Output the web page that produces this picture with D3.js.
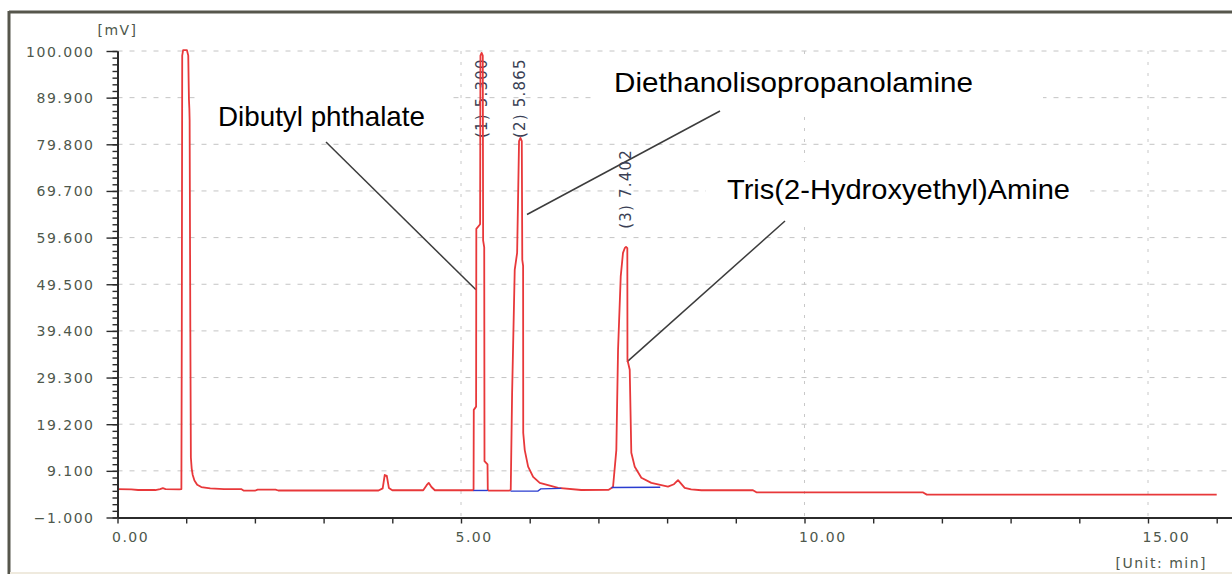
<!DOCTYPE html>
<html>
<head>
<meta charset="utf-8">
<script src="https://cdn.jsdelivr.net/npm/d3@7"></script>
<style>
  html, body { margin: 0; padding: 0; background: #ffffff; }
  svg { display: block; }
  .axis-text { font-family: "DejaVu Sans", Verdana, sans-serif; font-size: 14px; fill: #4e584c; letter-spacing: 1.5px; }
  .peak-text { font-family: "DejaVu Sans", Verdana, sans-serif; font-size: 15px; fill: #3a3f55; letter-spacing: 1.2px; }
  .name-text { font-family: "Liberation Sans", Arial, sans-serif; font-size: 28px; fill: #000000; }
</style>
</head>
<body>
<svg id="chart" width="1232" height="574"></svg>
<script>
// ---- detector trace: retention time (min) and signal (mV) ----
const timeMin = [
  0.00, 0.20, 0.30, 0.55, 0.62, 0.66, 0.70, 0.90, 0.930, 0.936, 0.942, 0.955, 1.010, 1.030,
  1.036, 1.040, 1.046, 1.050, 1.060, 1.068, 1.080, 1.095, 1.12, 1.16, 1.22, 1.35, 1.55, 1.80,
  1.84, 2.00, 2.04, 2.30, 2.34, 3.80, 3.86, 3.89, 3.92, 3.95, 4.00, 4.45, 4.50, 4.53, 4.57,
  4.62, 5.18, 5.183, 5.186, 5.220, 5.223, 5.278, 5.283, 5.300, 5.317, 5.322, 5.338, 5.342,
  5.386, 5.390, 5.40, 5.70, 5.724, 5.744, 5.782, 5.817, 5.845, 5.865, 5.885, 5.892, 5.904,
  5.906, 5.928, 5.977, 6.050, 6.146, 6.414, 6.75, 7.15, 7.213, 7.261, 7.286, 7.325, 7.358,
  7.383, 7.402, 7.421, 7.423, 7.456, 7.479, 7.529, 7.625, 7.770, 8.013, 8.10, 8.159, 8.256,
  8.35, 8.50, 9.25, 9.30, 11.72, 11.78, 16.00
];
const signalMv = [
  5.15, 5.10, 4.95, 4.95, 5.15, 5.35, 5.15, 5.10, 5.15, 40.0, 99.0, 100.2, 100.2, 99.0,
  93.0, 89.5, 87.5, 85.0, 40.0, 12.0, 9.6, 8.2, 7.0, 6.1, 5.6, 5.3, 5.15, 5.15,
  4.8, 4.8, 5.05, 5.05, 4.85, 4.85, 5.3, 8.2, 8.0, 5.4, 4.9, 4.9, 6.0, 6.5, 5.6,
  4.9, 4.9, 5.2, 22.3, 23.0, 61.5, 62.5, 99.0, 99.6, 99.0, 59.0, 57.5, 11.2,
  10.5, 5.0, 4.85, 4.8, 5.0, 26.0, 52.6, 56.3, 80.5, 81.2, 80.5, 54.8, 53.5,
  17.3, 13.6, 10.0, 7.8, 6.5, 5.4, 4.95, 5.0, 5.6, 13.6, 35.3, 51.2, 56.3,
  57.3, 57.6, 57.3, 33.1, 31.0, 13.0, 10.0, 7.6, 6.5, 5.7, 6.2, 7.1, 5.4,
  5.1, 4.9, 4.9, 4.45, 4.45, 3.95, 3.95
];

// integration baselines under the identified peaks
const baseline1Time = [5.18, 5.39];
const baseline1Mv   = [4.85, 4.85];
const baseline2Time = [5.72, 6.12, 6.16, 6.46];
const baseline2Mv   = [4.70, 4.75, 5.20, 5.30];
const baseline3Time = [7.19, 7.90];
const baseline3Mv   = [5.50, 5.55];

// identified peaks
const peakNumbers = [1, 2, 3];
const peakTimes   = [5.300, 5.865, 7.402];
const peakHeights = [99.6, 81.2, 57.6];
const compoundNames = ["Dibutyl phthalate", "Diethanolisopropanolamine", "Tris(2-Hydroxyethyl)Amine"];
// point on each peak that the leader line touches (min, mV)
const leaderTime = [5.218, 5.961, 7.416];
const leaderMv   = [48.3, 64.6, 32.7];

// axis ticks
const yTickValues = [-1.0, 9.1, 19.2, 29.3, 39.4, 49.5, 59.6, 69.7, 79.8, 89.9, 100.0];
const xLabelValues = [0, 5, 10, 15];
const xTickValues = [0, 1, 2, 3, 4, 5, 6, 7, 8, 9, 10, 11, 12, 13, 14, 15, 16];

// ---- layout ----
const W = 1232, H = 574;
const plotLeft = 117.5, plotRight = 1232, plotTop = 51, plotBottom = 517.5;
const minorPerMajor = 7;

// white boxes and text anchors of the compound names (pixels)
const nameLayout = [
  { box: [195, 86, 252, 54],  textX: 218, textY: 126, width: 207, lineFrom: [326, 142] },
  { box: [592, 58, 451, 53],  textX: 614, textY: 92,  width: 359, lineFrom: [720, 111] },
  { box: [706, 162, 384, 58], textX: 727, textY: 199, width: 343, lineFrom: [785, 221] }
];

const svg = d3.select("#chart");
svg.append("rect").attr("width", W).attr("height", H).attr("fill", "#ffffff");

const x = d3.scaleLinear().domain([0, (plotRight - plotLeft) / 68.7]).range([plotLeft, plotRight]);
const y = d3.scaleLinear().domain([-1, 100]).range([plotBottom, plotTop]);

// grid
const grid = svg.append("g");
grid.selectAll("line.h").data(yTickValues.slice(1)).join("line")
  .attr("x1", plotLeft).attr("x2", plotRight)
  .attr("y1", d => y(d)).attr("y2", d => y(d))
  .attr("stroke", "#c4c4c4").attr("stroke-width", 1).attr("stroke-dasharray", "5,7");
grid.selectAll("line.v").data(xLabelValues.slice(1)).join("line")
  .attr("x1", d => x(d)).attr("x2", d => x(d))
  .attr("y1", plotTop).attr("y2", plotBottom)
  .attr("stroke", "#c8c8c8").attr("stroke-width", 1).attr("stroke-dasharray", "3,8");

// compound name boxes (they hide the grid behind them)
const names = svg.append("g");
names.selectAll("rect").data(nameLayout).join("rect")
  .attr("x", d => d.box[0]).attr("y", d => d.box[1])
  .attr("width", d => d.box[2]).attr("height", d => d.box[3])
  .attr("fill", "#ffffff");
names.selectAll("text").data(compoundNames).join("text")
  .attr("class", "name-text")
  .attr("x", (d, i) => nameLayout[i].textX)
  .attr("y", (d, i) => nameLayout[i].textY)
  .attr("textLength", (d, i) => nameLayout[i].width)
  .attr("lengthAdjust", "spacingAndGlyphs")
  .text(d => d);

// leader lines
svg.append("g").selectAll("line").data(compoundNames).join("line")
  .attr("x1", (d, i) => nameLayout[i].lineFrom[0])
  .attr("y1", (d, i) => nameLayout[i].lineFrom[1])
  .attr("x2", (d, i) => x(leaderTime[i]))
  .attr("y2", (d, i) => y(leaderMv[i]))
  .attr("stroke", "#3c3c3c").attr("stroke-width", 1.5);

// peak retention labels (vertical), kept below the top of the plot
const labelLen = 80;
svg.append("g").selectAll("text").data(peakTimes).join("text")
  .attr("class", "peak-text")
  .attr("transform", (d, i) => {
    const bottom = Math.max(y(peakHeights[i]) - 18, plotTop + 7 + labelLen);
    return `translate(${x(d) + 5},${bottom}) rotate(-90)`;
  })
  .text((d, i) => `(${peakNumbers[i]}) ${d.toFixed(3)}`);

// signal trace
const line = d3.line().x(d => x(d[0])).y(d => y(d[1]));
svg.append("path")
  .datum(d3.zip(timeMin, signalMv))
  .attr("d", line)
  .attr("fill", "none").attr("stroke", "#e8383a").attr("stroke-width", 1.8)
  .attr("stroke-linejoin", "round");

// baselines
[[baseline1Time, baseline1Mv], [baseline2Time, baseline2Mv], [baseline3Time, baseline3Mv]].forEach(([t, v]) => {
  svg.append("path").datum(d3.zip(t, v)).attr("d", line)
    .attr("fill", "none").attr("stroke", "#2a3cd0").attr("stroke-width", 1.4);
});

// y axis: major and minor ticks
const yMinor = d3.range(-1, 100.001, 10.1 / minorPerMajor);
const yMinorAxis = svg.append("g").attr("transform", `translate(${plotLeft},0)`)
  .call(d3.axisLeft(y).tickValues(yMinor).tickSize(5).tickSizeOuter(0).tickFormat(""));
const yAxis = svg.append("g").attr("transform", `translate(${plotLeft},0)`)
  .call(d3.axisLeft(y).tickValues(yTickValues).tickSize(11).tickSizeOuter(0)
    .tickPadding(12).tickFormat(d3.format(".3f")));
yAxis.selectAll("text").attr("class", "axis-text").attr("dy", "0.36em");

// x axis
const xAxis = svg.append("g").attr("transform", `translate(0,${plotBottom})`)
  .call(d3.axisBottom(x).tickValues(xTickValues).tickSize(6).tickSizeOuter(0)
    .tickFormat(d => xLabelValues.includes(d) ? d3.format(".2f")(d) : ""));
xAxis.selectAll("text").attr("class", "axis-text")
  .attr("text-anchor", "start").attr("x", -6).attr("y", 24).attr("dy", 0);

[yAxis, yMinorAxis, xAxis].forEach(g => {
  g.selectAll("path.domain").attr("stroke", "#2b2b2b").attr("stroke-width", 2);
  g.selectAll(".tick line").attr("stroke", "#2b2b2b").attr("stroke-width", 1.4);
});

// units
svg.append("text").attr("class", "axis-text")
  .attr("x", plotLeft).attr("y", 35).attr("text-anchor", "middle").text("[mV]");
svg.append("text").attr("class", "axis-text")
  .attr("x", 1207).attr("y", 568).attr("text-anchor", "end").text("[Unit: min]");

// window frame
svg.append("line").attr("x1", 9).attr("x2", W).attr("y1", 12).attr("y2", 12)
  .attr("stroke", "#56564c").attr("stroke-width", 3);
svg.append("line").attr("x1", 9).attr("x2", 9).attr("y1", 11).attr("y2", H)
  .attr("stroke", "#56564c").attr("stroke-width", 3);
svg.append("line").attr("x1", 10).attr("x2", W).attr("y1", 573).attr("y2", 573)
  .attr("stroke", "#efeade").attr("stroke-width", 2);
</script>
</body>
</html>
